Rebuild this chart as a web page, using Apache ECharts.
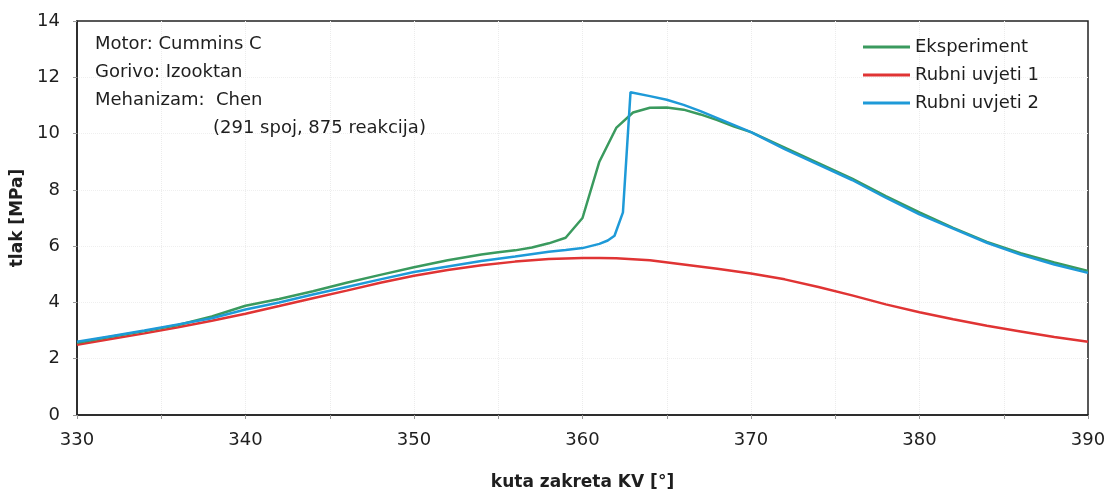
<!DOCTYPE html>
<html>
<head>
<meta charset="utf-8">
<script src="https://cdn.jsdelivr.net/npm/echarts@6/dist/echarts.min.js"></script>
<style>
html,body{margin:0;padding:0;background:#fff;}
#chart{width:1109px;height:494px;}
</style>
</head>
<body>
<div id="chart"></div>
<script>
// Crank angle [deg] and pressure [MPa]
const expX = [330,332,334,336,338,340,342,344,346,348,350,352,354,355,356,357,358,359,360,361,362,363,364,365,366,367,368,369,370,372,374,376,378,380,382,384,386,388,390];
const expY = [2.57,2.78,2.98,3.2,3.5,3.88,4.12,4.4,4.7,4.98,5.25,5.5,5.7,5.78,5.85,5.95,6.1,6.3,7.0,9.0,10.2,10.75,10.92,10.93,10.85,10.68,10.48,10.25,10.05,9.5,8.95,8.4,7.78,7.2,6.65,6.15,5.75,5.42,5.12];

const rub1X = [330,332,334,336,338,340,342,344,346,348,350,352,354,356,358,360,361,362,364,366,368,370,372,374,376,378,380,382,384,386,388,390];
const rub1Y = [2.5,2.7,2.9,3.12,3.35,3.6,3.87,4.15,4.42,4.7,4.95,5.15,5.32,5.45,5.54,5.58,5.58,5.57,5.5,5.35,5.2,5.03,4.82,4.55,4.25,3.93,3.65,3.4,3.17,2.97,2.77,2.6];

const rub2X = [330,332,334,336,338,340,342,344,346,348,350,352,354,356,358,359,360,361,361.5,361.9,362.4,362.85,364,365,366,367,368,369,370,372,374,376,378,380,382,384,386,388,390];
const rub2Y = [2.6,2.8,3.0,3.22,3.44,3.75,4.0,4.28,4.55,4.82,5.08,5.28,5.47,5.63,5.8,5.86,5.93,6.08,6.2,6.37,7.2,11.47,11.33,11.2,11.02,10.8,10.55,10.3,10.05,9.45,8.9,8.35,7.72,7.13,6.62,6.12,5.7,5.35,5.05];

const seriesNames = ['Eksperiment','Rubni uvjeti 1','Rubni uvjeti 2'];
const seriesColors = ['#3a9a5e','#e03434','#1e9ad8'];
const noteLines = ['Motor: Cummins C','Gorivo: Izooktan','Mehanizam:  Chen'];
const noteLine4 = '(291 spoj, 875 reakcija)';

function pairs(xs, ys){ return xs.map((x,i)=>[x, ys[i]]); }

const chart = echarts.init(document.getElementById('chart'));
const font = 'DejaVu Sans, sans-serif';
chart.setOption({
  animation:false,
  textStyle:{fontFamily:font},
  grid:{left:77,right:21,top:21,bottom:79,containLabel:false,outerBoundsMode:'none',show:true,borderColor:'#222',borderWidth:1.5,backgroundColor:'transparent'},
  legend:{
    orient:'vertical', left:858, top:33, itemWidth:47, itemHeight:3, itemGap:10,
    icon:'rect',
    textStyle:{fontSize:18,color:'#1e1e1e',fontFamily:font},
    data:seriesNames
  },
  xAxis:{
    type:'value', min:330, max:390, interval:5,
    name:'kuta zakreta KV [°]', nameLocation:'middle', nameGap:59,
    nameTextStyle:{fontSize:17,fontWeight:'bold',color:'#1e1e1e',fontFamily:font},
    axisLine:{lineStyle:{color:'#222',width:1.5}},
    axisTick:{show:true,length:4,lineStyle:{color:'#999'}},
    axisLabel:{fontSize:18,color:'#1e1e1e',margin:16,formatter:v=> (v%10===0? String(v):'')},
    splitLine:{show:true,showMinLine:false,showMaxLine:false,lineStyle:{color:'#ececec',type:'dotted'}}
  },
  yAxis:{
    type:'value', min:0, max:14, interval:2,
    name:'tlak [MPa]', nameLocation:'middle', nameGap:46, nameRotate:90,
    nameTextStyle:{fontSize:17,fontWeight:'bold',color:'#1e1e1e',fontFamily:font},
    axisLine:{show:true,lineStyle:{color:'#222',width:1.5}},
    axisTick:{show:true,length:4,lineStyle:{color:'#999'}},
    axisLabel:{fontSize:18,color:'#1e1e1e',margin:17},
    splitLine:{show:true,showMinLine:false,showMaxLine:false,lineStyle:{color:'#efefef',type:'dotted'}}
  },
  series:[
    {name:seriesNames[0],type:'line',data:pairs(expX,expY),symbol:'none',lineStyle:{width:2.5,color:seriesColors[0]},itemStyle:{color:seriesColors[0]},z:3},
    {name:seriesNames[1],type:'line',data:pairs(rub1X,rub1Y),symbol:'none',lineStyle:{width:2.5,color:seriesColors[1]},itemStyle:{color:seriesColors[1]},z:2},
    {name:seriesNames[2],type:'line',data:pairs(rub2X,rub2Y),symbol:'none',lineStyle:{width:2.5,color:seriesColors[2]},itemStyle:{color:seriesColors[2]},z:4}
  ],
  graphic:[
    {type:'text',left:95,top:35,z:10,style:{text:noteLines[0],fontSize:18,fill:'#1e1e1e',fontFamily:font}},
    {type:'text',left:95,top:63,z:10,style:{text:noteLines[1],fontSize:18,fill:'#1e1e1e',fontFamily:font}},
    {type:'text',left:95,top:91,z:10,style:{text:noteLines[2],fontSize:18,fill:'#1e1e1e',fontFamily:font}},
    {type:'text',left:213,top:119,z:10,style:{text:noteLine4,fontSize:18,fill:'#1e1e1e',fontFamily:font}}
  ]
});
</script>
</body>
</html>
